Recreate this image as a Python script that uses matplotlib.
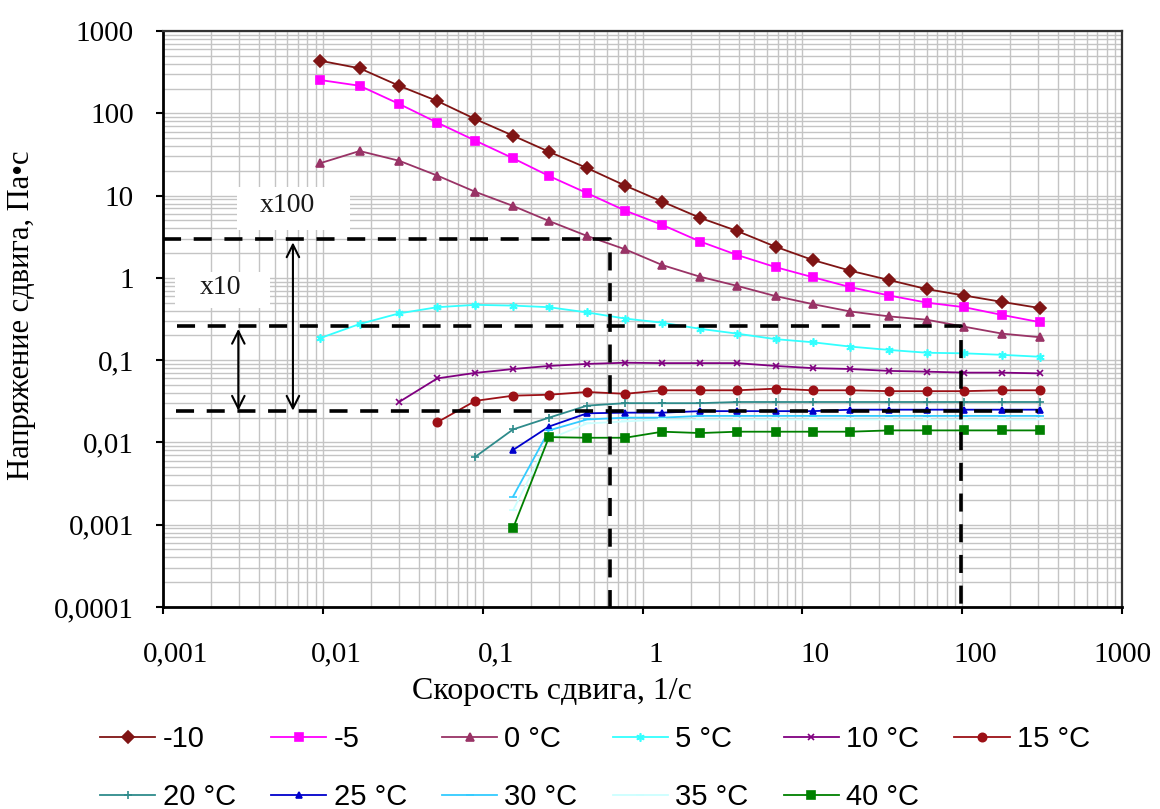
import numpy as np
import matplotlib
matplotlib.use("Agg")
import matplotlib.pyplot as plt
from matplotlib.patches import Rectangle
from matplotlib.transforms import ScaledTranslation

plt.rcParams['font.family'] = ['Liberation Serif', 'DejaVu Serif']

nan = np.nan

# скорость сдвига, 1/с (общая сетка точек)
shear = [0.0096, 0.017, 0.030, 0.052, 0.090, 0.155, 0.26, 0.45, 0.78, 1.33,
         2.3, 3.9, 6.8, 11.6, 20, 35, 60, 103, 178, 305]

# напряжение сдвига по температурам
t_m10 = [436, 352, 216, 141, 85, 53.4, 34.1, 21.6, 13.2, 8.43,
         5.35, 3.72, 2.39, 1.65, 1.22, 0.94, 0.73, 0.61, 0.51, 0.43]
t_m5 = [254, 216, 130, 77, 46.5, 28.4, 17.3, 10.7, 6.56, 4.40,
        2.76, 1.90, 1.35, 1.02, 0.77, 0.61, 0.50, 0.44, 0.354, 0.29]
t_0 = [24.7, 34.8, 26.5, 17.5, 11.1, 7.48, 4.91, 3.23, 2.22, 1.43,
       1.03, 0.80, 0.60, 0.48, 0.39, 0.34, 0.31, 0.255, 0.21, 0.19]
t_5 = [0.185, 0.275, 0.37, 0.44, 0.47, 0.46, 0.44, 0.38, 0.32, 0.285,
       0.24, 0.21, 0.18, 0.165, 0.146, 0.133, 0.123, 0.121, 0.116, 0.110]
t_10 = [nan, nan, 0.031, 0.060, 0.070, 0.078, 0.085, 0.090, 0.093, 0.092,
        0.092, 0.092, 0.085, 0.080, 0.078, 0.074, 0.0725, 0.0705, 0.0705, 0.069]
t_15 = [nan, nan, nan, 0.0176, 0.032, 0.037, 0.038, 0.041, 0.039, 0.043,
        0.043, 0.043, 0.045, 0.043, 0.043, 0.042, 0.042, 0.042, 0.043, 0.043]
t_20 = [nan, nan, nan, nan, 0.0067, 0.0144, 0.020, 0.028, 0.030, 0.030,
        0.030, 0.031, 0.031, 0.031, 0.031, 0.031, 0.031, 0.031, 0.031, 0.031]
t_25 = [nan, nan, nan, nan, nan, 0.0081, 0.0156, 0.0226, 0.023, 0.023,
        0.024, 0.024, 0.024, 0.024, 0.025, 0.025, 0.025, 0.025, 0.025, 0.025]
t_30 = [nan, nan, nan, nan, nan, 0.0022, 0.014, 0.019, 0.020, 0.020,
        0.021, 0.021, 0.021, 0.021, 0.021, 0.021, 0.021, 0.021, 0.021, 0.021]
t_35 = [nan, nan, nan, nan, nan, 0.0015, 0.011, 0.017, 0.018, 0.019,
        0.019, 0.019, 0.019, 0.019, 0.019, 0.019, 0.019, 0.019, 0.019, 0.019]
t_40 = [nan, nan, nan, nan, nan, 0.00091, 0.0116, 0.0114, 0.0114, 0.0135,
        0.013, 0.0135, 0.0135, 0.0135, 0.0135, 0.014, 0.014, 0.014, 0.014, 0.014]

labels = ['-10', '-5', '0 °C', '5 °C', '10 °C', '15 °C',
          '20 °C', '25 °C', '30 °C', '35 °C', '40 °C']
series = [t_m10, t_m5, t_0, t_5, t_10, t_15, t_20, t_25, t_30, t_35, t_40]
colors = ['#7f1414', '#ff00ff', '#993366', '#33ffff', '#800080', '#9c1016',
          '#2e8b8b', '#0000cc', '#33ccff', '#ccffff', '#008000']
markers = ['D', 's', '^', (6, 2, 0), 'x', 'o', '+', '^', '_', '_', 's']
msizes = [6, 6, 6, 6, 5, 6, 6, 4, 6, 6, 6]

xticks = [0.001, 0.01, 0.1, 1, 10, 100, 1000]
xticklabels = ['0,001', '0,01', '0,1', '1', '10', '100', '1000']
yticks = [0.0001, 0.001, 0.01, 0.1, 1, 10, 100, 1000]
yticklabels = ['0,0001', '0,001', '0,01', '0,1', '1', '10', '100', '1000']

fig = plt.figure(figsize=(11.6, 8.09), dpi=100)
ax = fig.add_axes([163/1160, 1-607/809, 959/1160, 576/809])
ax.set_xscale('log')
ax.set_yscale('log')
ax.set_xlim(0.001, 1000)
ax.set_ylim(0.0001, 1000)

ax.grid(True, which='both', color='#c4c4c4', lw=1.0)
ax.set_axisbelow(True)

handles = []
for y, lab, c, m, ms in zip(series, labels, colors, markers, msizes):
    h, = ax.plot(shear, y, color=c, marker=m, ms=ms, lw=1.3,
                 markeredgecolor=c, markeredgewidth=1.2, label=lab, zorder=3)
    handles.append(h)

# пунктирные линии
dash = dict(color='k', lw=2.6, ls=(0, (5, 3.5)), zorder=5)
ax.plot([0.001, 0.63, 0.63], [2.95, 2.95, 0.0001], **dash)
ax.plot([0.00122, 98, 98], [0.26, 0.26, 0.0001], **dash)
ax.plot([0.0012, 300], [0.0243, 0.0243], **dash)

# стрелки
ap = dict(arrowstyle='<->,head_length=0.9,head_width=0.45', lw=1.5,
          color='k', shrinkA=0, shrinkB=0)
ax.annotate('', xy=(0.0065, 2.7), xytext=(0.0065, 0.0243), arrowprops=ap, zorder=6)
ax.annotate('', xy=(0.00296, 0.24), xytext=(0.00296, 0.0243), arrowprops=ap, zorder=6)

# подписи x100 / x10 на белых плашках
ax.add_patch(Rectangle((0.077, 0.655), 0.118, 0.075, transform=ax.transAxes,
                       facecolor='white', edgecolor='none', zorder=4))
ax.add_patch(Rectangle((0.0125, 0.519), 0.099, 0.063, transform=ax.transAxes,
                       facecolor='white', edgecolor='none', zorder=4))
ax.text(287/1160, 1-206/809, 'x100', transform=fig.transFigure, fontsize=20,
        color='#1a1a1a', ha='center', va='center', zorder=7)
ax.text(221/1160, 1-288/809, 'x10', transform=fig.transFigure, fontsize=20,
        color='#1a1a1a', ha='center', va='center', zorder=7)

ax.set_xticks(xticks)
ax.set_xticklabels(xticklabels, fontsize=21)
ax.set_yticks(yticks)
ax.set_yticklabels(yticklabels, fontsize=21)
ax.tick_params(which='major', direction='out', length=5, width=1.5)
ax.tick_params(axis='x', pad=20)
ax.tick_params(axis='y', pad=16)
ax.tick_params(which='minor', length=0)

# подписи оси x в оригинале сдвинуты вправо от штрихов
shift = ScaledTranslation(13/100, 0, fig.dpi_scale_trans)
for lbl in ax.get_xticklabels()[:-1]:
    lbl.set_transform(lbl.get_transform() + shift)

for s in ['left', 'bottom']:
    ax.spines[s].set_linewidth(2)
    ax.spines[s].set_color('k')
for s in ['top', 'right']:
    ax.spines[s].set_linewidth(1.6)
    ax.spines[s].set_color('#333333')

fig.text(552/1160, 1-692/809, 'Скорость сдвига, 1/с', fontsize=23,
         ha='center', va='center')
fig.text(22/1160, 1-315/809, 'Напряжение сдвига, Па•с', fontsize=22,
         ha='center', va='center', rotation=90)

# легенда: построчно, 6 колонок
order = [0, 6, 1, 7, 2, 8, 3, 9, 4, 10, 5]
fig.legend([handles[i] for i in order], [labels[i] for i in order],
           ncol=6, loc='upper left', bbox_to_anchor=(100/1160, 1-725/809),
           frameon=False, borderaxespad=0, borderpad=0,
           handlelength=1.9, handletextpad=0.25,
           columnspacing=1.2, labelspacing=1.02,
           prop={'family': 'Liberation Sans', 'size': 21})

fig.savefig('out.png', dpi=100)
